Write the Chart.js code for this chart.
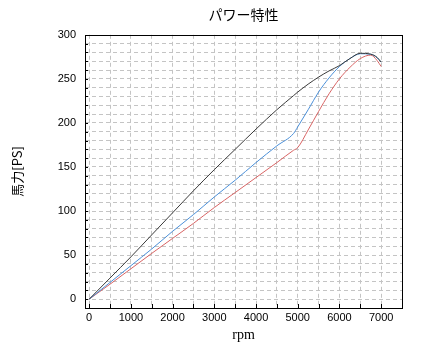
<!DOCTYPE html>
<html>
<head>
<meta charset="utf-8">
<script src="https://cdn.jsdelivr.net/npm/chart.js@4/dist/chart.umd.min.js"></script>
<style>
  body { margin: 0; background: #fff; }
  canvas { display: block; }
</style>
</head>
<body>
<canvas id="power-chart" width="421" height="352"></canvas>
<script>
// data
const rpm      = [0, 500, 1000, 1500, 2000, 2500, 3000, 3500, 4000, 4500, 4900, 5000, 5250, 5500, 5750, 6000, 6250, 6500, 6750, 6900, 7000];
const powerA   = [0, 24, 48, 73, 98, 123, 147, 170, 193, 215, 231, 235, 244, 252, 259, 265, 273, 279, 278, 274.5, 269];
const powerB   = [0, 19, 38, 57, 77, 96, 116, 135, 155, 174, 188, 195.5, 215, 235, 251, 264, 273, 278.5, 278, 274, 269];
const powerC   = [0, 17, 34.5, 52, 69, 86, 104, 121, 138, 155, 169, 172, 192, 213, 233, 250, 263, 273, 277, 271, 264];
const xTicks = [0, 500, 1000, 1500, 2000, 2500, 3000, 3500, 4000, 4500, 5000, 5500, 6000, 6500, 7000];
const xTickLabels = [0, 1000, 2000, 3000, 4000, 5000, 6000, 7000];
const yTickLabels = [0, 50, 100, 150, 200, 250, 300];

function toPoints(values) {
	return rpm.map((r, i) => ({ x: r, y: values[i] }));
}

// grid every 10 on y, labels every 50
const yTicks = [];
for (let v = 0; v < 300; v += 10) yTicks.push(v);

// frame + small inward tick marks
const framePlugin = {
	id: 'frame',
	afterDatasetsDraw(chart) {
		const { ctx, chartArea: a, scales } = chart;
		ctx.save();
		ctx.strokeStyle = '#000';
		ctx.lineWidth = 1;
		ctx.beginPath();
		yTicks.forEach((v) => {
			const y = Math.round(scales.y.getPixelForValue(v)) + 0.5;
			ctx.moveTo(a.left, y);
			ctx.lineTo(a.left + 3, y);
		});
		xTicks.forEach((v) => {
			const x = Math.round(scales.x.getPixelForValue(v)) + 0.5;
			ctx.moveTo(x, a.bottom);
			ctx.lineTo(x, a.bottom - 4);
		});
		ctx.stroke();
		ctx.strokeRect(Math.round(a.left) + 0.5, Math.round(a.top) + 0.5,
			Math.round(a.right - a.left), Math.round(a.bottom - a.top));
		ctx.restore();
	}
};

new Chart(document.getElementById('power-chart'), {
	type: 'line',
	data: {
		datasets: [
			{ data: toPoints(powerA), borderColor: '#3a3a3a' },
			{ data: toPoints(powerB), borderColor: '#4a8fd8' },
			{ data: toPoints(powerC), borderColor: '#d86464' }
		]
	},
	options: {
		responsive: false,
		animation: false,
		layout: { padding: { left: 0, right: 19, top: 0, bottom: 0 } },
		elements: {
			point: { radius: 0 },
			line: { borderWidth: 1, cubicInterpolationMode: 'monotone' }
		},
		plugins: {
			legend: { display: false },
			tooltip: { enabled: false },
			title: {
				display: true,
				text: 'パワー特性',
				fullSize: false,
				color: '#000',
				font: { family: '"Noto Sans CJK JP"', size: 14, weight: 'normal' },
				padding: { top: 6, bottom: 12 }
			}
		},
		scales: {
			x: {
				type: 'linear',
				min: -100,
				max: 7500,
				afterFit(scale) { scale.height = 44; },
				afterBuildTicks(scale) { scale.ticks = xTicks.map((v) => ({ value: v })); },
				border: { display: false, dash: [4, 3] },
				grid: { color: '#c4c4c4', drawTicks: false, lineWidth: 1 },
				ticks: {
					autoSkip: false,
					maxRotation: 0,
					padding: 3,
					color: '#000',
					font: { family: '"Liberation Sans"', size: 11 },
					callback: (v) => xTickLabels.includes(v) ? String(v) : ''
				},
				title: {
					display: true,
					text: 'rpm',
					color: '#000',
					font: { family: '"Liberation Serif"', size: 14 },
					padding: { top: 0, bottom: 8 }
				}
			},
			y: {
				min: -10,
				max: 300,
				afterFit(scale) { scale.width = 85; },
				afterBuildTicks(scale) { scale.ticks = yTicks.concat([300]).map((v) => ({ value: v })); },
				border: { display: false, dash: [4, 3] },
				grid: {
					color: (ctx) => ctx.tick && ctx.tick.value === 300 ? 'rgba(0,0,0,0)' : '#c4c4c4',
					drawTicks: false,
					lineWidth: 1
				},
				ticks: {
					autoSkip: false,
					padding: 9,
					color: '#000',
					font: { family: '"Liberation Sans"', size: 11 },
					callback: (v) => yTickLabels.includes(v) ? String(v) : ''
				},
				title: {
					display: true,
					text: '馬力[PS]',
					color: '#000',
					font: { family: '"Noto Sans CJK JP"', size: 13 },
					padding: { top: 9, bottom: 0 }
				}
			}
		}
	},
	plugins: [framePlugin]
});
</script>
</body>
</html>
